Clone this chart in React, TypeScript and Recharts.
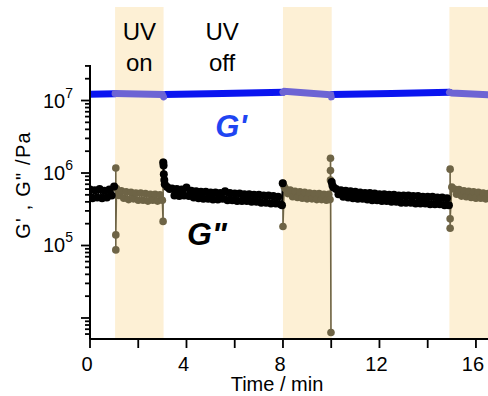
import React from 'react';
import { ComposedChart, Line, XAxis, YAxis, ReferenceArea, ReferenceDot } from 'recharts';

const FONT = '"Liberation Sans", Arial, Helvetica, sans-serif';

// ---- G'' (loss modulus), UV off segments (black) ----
const offTime1 = [0, 0.1, 0.2, 0.3, 0.4, 0.5, 0.6, 0.7, 0.8, 0.9, 1.0];
const offG2_1 = [5.9e5, 4.5e5, 5.8e5, 4.6e5, 6.0e5, 4.5e5, 5.7e5, 4.6e5, 5.9e5, 4.9e5, 6.5e5];

const offTime2 = [3.04, 3.05, 3.06, 3.08, 3.1, 3.2, 3.3, 3.4, 3.5, 3.6, 3.7, 3.8, 3.9, 4.0, 4.1, 4.2, 4.3, 4.4, 4.5, 4.6, 4.7, 4.8, 4.9, 5.0, 5.1, 5.2, 5.3, 5.4, 5.5, 5.6, 5.7, 5.8, 5.9, 6.0, 6.1, 6.2, 6.3, 6.4, 6.5, 6.6, 6.7, 6.8, 6.9, 7.0, 7.1, 7.2, 7.3, 7.4, 7.5, 7.6, 7.7, 7.8, 7.9, 7.96, 7.99];
const offG2_2 = [1.4e6, 1.27e6, 9.6e5, 8.0e5, 7.0e5, 6.4e5, 6.0e5, 6.1e5, 4.9e5, 6.0e5, 4.8e5, 5.9e5, 4.9e5, 6.3e5, 4.8e5, 5.7e5, 4.6e5, 5.6e5, 4.5e5, 5.5e5, 4.4e5, 5.5e5, 4.4e5, 5.4e5, 4.3e5, 5.4e5, 4.3e5, 5.3e5, 4.4e5, 5.6e5, 4.2e5, 5.3e5, 4.2e5, 5.2e5, 4.1e5, 5.2e5, 4.1e5, 5.1e5, 4.1e5, 5.1e5, 4.0e5, 5.0e5, 4.0e5, 5.0e5, 3.9e5, 4.9e5, 3.9e5, 4.9e5, 3.8e5, 4.8e5, 3.8e5, 4.7e5, 3.7e5, 3.6e5, 7.2e5];

const offTime3 = [10.02, 10.05, 10.1, 10.2, 10.3, 10.4, 10.5, 10.6, 10.7, 10.8, 10.9, 11.0, 11.1, 11.2, 11.3, 11.4, 11.5, 11.6, 11.7, 11.8, 11.9, 12.0, 12.1, 12.2, 12.3, 12.4, 12.5, 12.6, 12.7, 12.8, 12.9, 13.0, 13.1, 13.2, 13.3, 13.4, 13.5, 13.6, 13.7, 13.8, 13.9, 14.0, 14.1, 14.2, 14.3, 14.4, 14.5, 14.6, 14.7, 14.8, 14.88];
const offG2_3 = [7.5e5, 6.7e5, 6.3e5, 6.0e5, 5.1e5, 5.8e5, 4.7e5, 5.7e5, 4.6e5, 5.6e5, 4.5e5, 5.5e5, 4.4e5, 5.4e5, 4.4e5, 5.3e5, 4.3e5, 5.3e5, 4.2e5, 5.2e5, 4.2e5, 5.1e5, 4.1e5, 5.1e5, 4.1e5, 5.0e5, 4.0e5, 5.0e5, 4.0e5, 4.9e5, 3.9e5, 4.9e5, 3.9e5, 4.9e5, 3.9e5, 4.8e5, 3.8e5, 4.8e5, 3.8e5, 4.7e5, 3.8e5, 4.7e5, 3.7e5, 4.7e5, 3.7e5, 4.6e5, 3.7e5, 4.6e5, 3.6e5, 4.5e5, 3.6e5];

// ---- G'' (loss modulus), UV on segments (olive) ----
const onTime1 = [1.07, 1.07, 1.07, 1.1, 1.2, 1.3, 1.4, 1.5, 1.6, 1.7, 1.8, 1.9, 2.0, 2.1, 2.2, 2.3, 2.4, 2.5, 2.6, 2.7, 2.8, 2.9, 3.0, 3.03, 3.03];
const onG2_1 = [1.17e6, 8.7e4, 1.4e5, 6.1e5, 4.9e5, 5.7e5, 4.5e5, 5.5e5, 4.3e5, 5.4e5, 4.4e5, 5.3e5, 4.2e5, 5.3e5, 4.2e5, 5.2e5, 4.1e5, 5.1e5, 4.2e5, 5.1e5, 4.1e5, 5.0e5, 4.2e5, 2.15e5, 1.4e6];

const onTime2 = [8.0, 8.0, 8.05, 8.1, 8.2, 8.3, 8.4, 8.5, 8.6, 8.7, 8.8, 8.9, 9.0, 9.1, 9.2, 9.3, 9.4, 9.5, 9.6, 9.7, 9.8, 9.9, 9.95, 9.97, 9.97, 9.97, 9.99];
const onG2_2 = [7.2e5, 1.83e5, 6.5e5, 6.1e5, 5.2e5, 5.8e5, 4.7e5, 5.6e5, 4.6e5, 5.5e5, 4.5e5, 5.4e5, 4.4e5, 5.3e5, 4.4e5, 5.2e5, 4.3e5, 5.2e5, 4.3e5, 5.1e5, 4.2e5, 5.1e5, 4.3e5, 8.0e5, 1.08e6, 1.6e6, 6.3e3];

const onTime3 = [14.93, 14.93, 14.93, 15.0, 15.1, 15.2, 15.3, 15.4, 15.5, 15.6, 15.7, 15.8, 15.9, 16.0, 16.1, 16.2, 16.3, 16.4, 16.5];
const onG2_3 = [1.13e6, 1.73e5, 2.33e5, 6.4e5, 6.0e5, 5.1e5, 5.9e5, 4.8e5, 5.7e5, 4.7e5, 5.6e5, 4.6e5, 5.5e5, 4.5e5, 5.4e5, 4.5e5, 5.3e5, 4.4e5, 5.2e5];

// ---- G' (storage modulus) ----
const gpOffTime1 = [0, 0.5, 1.04];
const gpOff1 = [1.22e7, 1.23e7, 1.24e7];
const gpOnTime1 = [1.04, 2.0, 3.0, 3.05];
const gpOn1 = [1.25e7, 1.23e7, 1.21e7, 1.12e7];
const gpOffTime2 = [3.07, 5.5, 8.0];
const gpOff2 = [1.21e7, 1.25e7, 1.3e7];
const gpOnTime2 = [8.0, 8.06, 9.0, 9.98, 10.0];
const gpOn2 = [1.3e7, 1.34e7, 1.27e7, 1.2e7, 1.12e7];
const gpOffTime3 = [10.04, 12.5, 14.9];
const gpOff3 = [1.21e7, 1.25e7, 1.3e7];
const gpOnTime3 = [14.9, 15.0, 16.5];
const gpOn3 = [1.3e7, 1.27e7, 1.2e7];

// ---- UV bands ----
const uvStart = [1.04, 8.0, 14.9];
const uvEnd = [3.05, 10.02, 16.5];

// ---- axes ----
const xTicks = [0, 2, 4, 6, 8, 10, 12, 14, 16];
const xTickLabels = ['0', '', '4', '', '8', '', '12', '', '16'];
const yMajor = [1e4, 1e5, 1e6, 1e7];
const yMajorExp = ['', '5', '6', '7'];
const yMinor = [6e3, 7e3, 8e3, 9e3, 2e4, 3e4, 4e4, 5e4, 6e4, 7e4, 8e4, 9e4, 2e5, 3e5, 4e5, 5e5, 6e5, 7e5, 8e5, 9e5, 2e6, 3e6, 4e6, 5e6, 6e6, 7e6, 8e6, 9e6, 2e7, 3e7];
const yDomain = [5130, 3.09e7];
const bandTop = 1.95e8;

const zip = (t: number[], v: number[]) => t.map((x, i) => ({ t: x, v: v[i] }));

const BLUE = '#0a14f0';
const BLUE_ON = '#6d64d4';
const OLIVE = '#6e6446';
const BAND = '#fdf0d5';

const YTick = (props: any) => {
  const { x, y, payload } = props;
  const idx = yMajor.indexOf(payload.value);
  const major = idx >= 0;
  const len = major ? 9 : 5;
  const exp = major ? yMajorExp[idx] : '';
  return (
    <g>
      <line x1={x - len} x2={x} y1={y} y2={y} stroke="#000" strokeWidth={1.8} />
      {exp && (
        <text x={x - 17} y={y + 7} textAnchor="end" fontFamily={FONT} fontSize={20} fill="#000">
          10<tspan dy={-10} fontSize={14}>{exp}</tspan>
        </text>
      )}
    </g>
  );
};

const XTick = (props: any) => {
  const { x, y, payload } = props;
  const idx = xTicks.indexOf(payload.value);
  const lab = idx >= 0 ? xTickLabels[idx] : '';
  return (
    <g>
      <line x1={x} x2={x} y1={y} y2={y + 9} stroke="#000" strokeWidth={1.8} />
      {lab && (
        <text x={x - 3} y={y + 32} textAnchor="middle" fontFamily={FONT} fontSize={20} fill="#000">
          {lab}
        </text>
      )}
    </g>
  );
};

const bandLabel = (lines: string[]) => (p: any) => {
  const vb = p.viewBox || {};
  const cx = vb.x + vb.width / 2;
  return (
    <g>
      <text x={cx} y={vb.y + 33} textAnchor="middle" fontFamily={FONT} fontSize={24} fill="#000">{lines[0]}</text>
      <text x={cx} y={vb.y + 64} textAnchor="middle" fontFamily={FONT} fontSize={24} fill="#000">{lines[1]}</text>
    </g>
  );
};

const textLabel = (txt: string, color: string, size: number) => (p: any) => {
  const vb = p.viewBox || {};
  const cx = vb.x + (vb.width || 0) / 2;
  const cy = vb.y + (vb.height || 0) / 2;
  return (
    <text x={cx} y={cy} textAnchor="middle" fontFamily={FONT} fontSize={size} fontWeight="bold" fontStyle="italic" fill={color}>
      {txt}
    </text>
  );
};

export default function App() {
  const gpOff = [zip(gpOffTime1, gpOff1), zip(gpOffTime2, gpOff2), zip(gpOffTime3, gpOff3)];
  const gpOn = [zip(gpOnTime1, gpOn1), zip(gpOnTime2, gpOn2), zip(gpOnTime3, gpOn3)];
  const g2On = [zip(onTime1, onG2_1), zip(onTime2, onG2_2), zip(onTime3, onG2_3)];
  const g2Off = [zip(offTime1, offG2_1), zip(offTime2, offG2_2), zip(offTime3, offG2_3)];

  return (
    <div style={{ position: 'absolute', left: 0, top: 0, width: 488, height: 396, background: '#fff' }}>
      <ComposedChart width={488} height={396} margin={{ top: 65, right: 0, bottom: 0, left: 0 }}>
        <XAxis
          type="number"
          dataKey="t"
          domain={[0, 16.5]}
          allowDataOverflow
          ticks={xTicks}
          interval={0}
          tick={<XTick />}
          tickLine={false}
          tickSize={0}
          tickMargin={0}
          height={57}
          axisLine={{ stroke: '#000', strokeWidth: 2 }}
          label={{
            content: () => (
              <text x={277} y={391} textAnchor="middle" fontFamily={FONT} fontSize={20} fill="#000">Time / min</text>
            ),
          }}
        />
        <YAxis
          type="number"
          scale="log"
          domain={yDomain}
          allowDataOverflow
          ticks={[...yMinor, ...yMajor]}
          interval={0}
          tick={<YTick />}
          tickLine={false}
          tickSize={0}
          tickMargin={0}
          width={90}
          axisLine={{ stroke: '#000', strokeWidth: 2 }}
          label={{
            content: () => (
              <text transform="translate(30,185) rotate(-90)" textAnchor="middle" fontFamily={FONT} fontSize={20} letterSpacing={1.2} fill="#000" xmlSpace="preserve">
                {"G' , G\" /Pa"}
              </text>
            ),
          }}
        />
        {uvStart.map((s, i) => (
          <ReferenceArea
            key={'band' + i}
            x1={s}
            x2={uvEnd[i]}
            y1={yDomain[0]}
            y2={bandTop}
            ifOverflow="visible"
            fill={BAND}
            fillOpacity={1}
            stroke="none"
            label={i === 0 ? bandLabel(['UV', 'on']) : undefined}
          />
        ))}
        <ReferenceArea
          x1={3.05}
          x2={7.9}
          y1={yDomain[0]}
          y2={bandTop}
          ifOverflow="visible"
          fill="none"
          fillOpacity={0}
          stroke="none"
          label={bandLabel(['UV', 'off'])}
        />
        {gpOff.map((d, i) => (
          <Line key={'gpoff' + i} data={d} dataKey="v" type="linear" stroke={BLUE} strokeWidth={7} strokeLinecap="round" dot={false} activeDot={false} isAnimationActive={false} legendType="none" />
        ))}
        {gpOn.map((d, i) => (
          <Line key={'gpon' + i} data={d} dataKey="v" type="linear" stroke={BLUE_ON} strokeWidth={7} strokeLinecap="round" dot={false} activeDot={false} isAnimationActive={false} legendType="none" />
        ))}
        {g2On.map((d, i) => (
          <Line key={'g2on' + i} data={d} dataKey="v" type="linear" stroke={OLIVE} strokeWidth={1.6} dot={{ r: 3.8, fill: OLIVE, stroke: 'none' }} activeDot={false} isAnimationActive={false} legendType="none" />
        ))}
        {g2Off.map((d, i) => (
          <Line key={'g2off' + i} data={d} dataKey="v" type="linear" stroke="#000" strokeWidth={2} dot={{ r: 4, fill: '#000', stroke: 'none' }} activeDot={false} isAnimationActive={false} legendType="none" />
        ))}
        <ReferenceDot x={5.85} y={3.14e6} r={1} fill="none" stroke="none" ifOverflow="visible" label={textLabel("G'", '#1f45f2', 31)} />
        <ReferenceDot x={4.85} y={1.0e5} r={1} fill="none" stroke="none" ifOverflow="visible" label={textLabel('G"', '#000', 32)} />
      </ComposedChart>
    </div>
  );
}
